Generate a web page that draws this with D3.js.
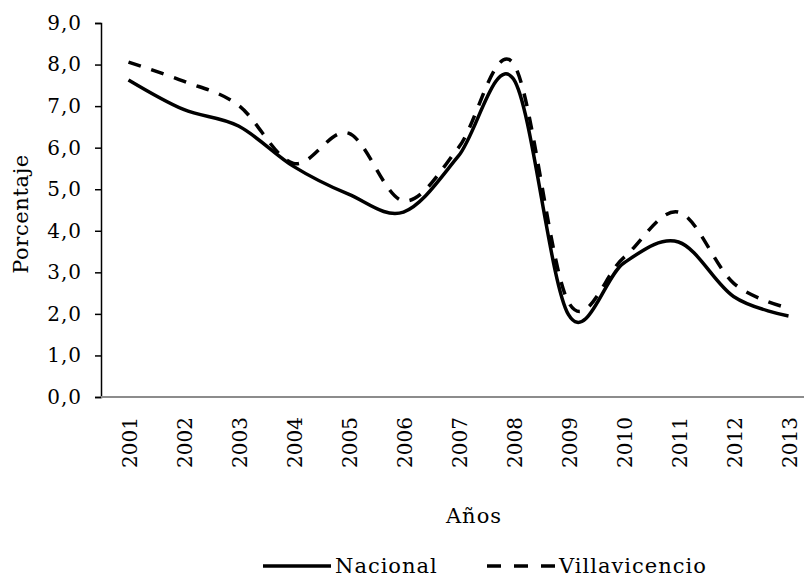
<!DOCTYPE html>
<html>
<head>
<meta charset="utf-8">
<script src="https://cdn.jsdelivr.net/npm/d3@7"></script>
<style>
  body { margin: 0; background: #fff; }
  text { font-family: "DejaVu Serif", serif; fill: #000; }
</style>
</head>
<body>
<div id="chart"></div>
<script>
// data
var years = ['2001','2002','2003','2004','2005','2006','2007','2008','2009','2010','2011','2012','2013'];
var nacional = [7.63, 6.92, 6.52, 5.55, 4.88, 4.45, 5.8, 7.65, 1.98, 3.22, 3.73, 2.42, 1.95];
var villavicencio = [8.06, 7.6, 7.02, 5.62, 6.35, 4.72, 6.0, 8.02, 2.28, 3.35, 4.45, 2.74, 2.14];
var yTicks = [0, 1, 2, 3, 4, 5, 6, 7, 8, 9];

var W = 804, H = 579;
var svg = d3.select('#chart')
    .append('svg')
    .attr('width', W)
    .attr('height', H);

// scales
var x = d3.scalePoint()
    .domain(years)
    .range([101, 816])
    .padding(0.5);

var y = d3.scaleLinear()
    .domain([0, 9])
    .range([397, 23]);

// y axis
var yAxis = svg.append('g')
    .attr('transform', 'translate(101,0)')
    .call(d3.axisLeft(y).tickValues(yTicks).tickSize(6).tickPadding(13)
        .tickFormat(function(d) { return d3.format('.1f')(d).replace('.', ','); }));
yAxis.select('.domain').attr('stroke', '#000').attr('stroke-width', 1.5);
yAxis.selectAll('.tick line').attr('stroke', '#000').attr('stroke-width', 1.5);
yAxis.selectAll('.tick text')
    .style('font-size', '20px')
    .style('letter-spacing', '1px')
    .attr('fill', '#000');

// x axis (no ticks, grey line)
var xAxis = svg.append('g')
    .attr('transform', 'translate(0,397)')
    .call(d3.axisBottom(x).tickSize(0).tickPadding(0));
xAxis.select('.domain').remove();
xAxis.append('line')
    .attr('x1', 101).attr('x2', W)
    .attr('stroke', '#8c8c8c').attr('stroke-width', 2);
xAxis.selectAll('.tick text')
    .attr('transform', 'rotate(-90)')
    .attr('text-anchor', 'end')
    .attr('dy', '0.35em')
    .attr('x', -20)
    .attr('y', 1)
    .style('font-size', '20px')
    .attr('fill', '#000');

// lines
var line = d3.line()
    .x(function(d, i) { return x(years[i]); })
    .y(function(d) { return y(d); })
    .curve(d3.curveCatmullRom.alpha(0));

svg.append('path')
    .datum(nacional)
    .attr('d', line)
    .attr('fill', 'none')
    .attr('stroke', '#000')
    .attr('stroke-width', 3.5);

svg.append('path')
    .datum(villavicencio)
    .attr('d', line)
    .attr('fill', 'none')
    .attr('stroke', '#000')
    .attr('stroke-width', 3.5)
    .attr('stroke-dasharray', '13,11');

// axis titles
svg.append('text')
    .attr('transform', 'translate(28,214) rotate(-90)')
    .attr('text-anchor', 'middle')
    .style('font-size', '21px')
    .style('letter-spacing', '0.6px')
    .text('Porcentaje');

svg.append('text')
    .attr('x', 474)
    .attr('y', 523)
    .attr('text-anchor', 'middle')
    .style('font-size', '21px')
    .style('letter-spacing', '1px')
    .text('Años');

// legend
var legend = [
    {name: 'Nacional', dash: null, x: 263},
    {name: 'Villavicencio', dash: '14,13', x: 487}
];
var lg = svg.append('g');
legend.forEach(function(l) {
    lg.append('line')
        .attr('x1', l.x).attr('x2', l.x + 68)
        .attr('y1', 566).attr('y2', 566)
        .attr('stroke', '#000')
        .attr('stroke-width', 3.5)
        .attr('stroke-dasharray', l.dash);
    lg.append('text')
        .attr('x', l.x + 72)
        .attr('y', 573)
        .style('font-size', '21px')
        .style('letter-spacing', '1px')
        .text(l.name);
});
</script>
</body>
</html>
